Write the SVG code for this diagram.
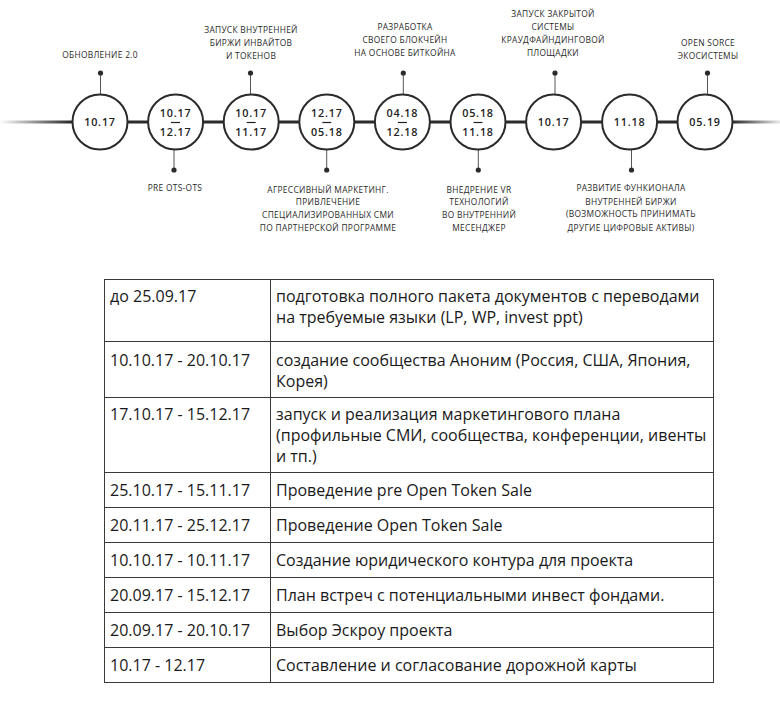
<svg xmlns="http://www.w3.org/2000/svg" width="780" height="712" viewBox="0 0 780 712">
  <defs>
    <linearGradient id="axisFade" x1="0" y1="0" x2="780" y2="0" gradientUnits="userSpaceOnUse">
      <stop offset="0" stop-color="#2b2b2b" stop-opacity="0"/>
      <stop offset="0.09" stop-color="#2b2b2b" stop-opacity="1"/>
      <stop offset="0.94" stop-color="#2b2b2b" stop-opacity="1"/>
      <stop offset="1" stop-color="#2b2b2b" stop-opacity="0.1"/>
    </linearGradient>
    <style>
      .node circle { fill: #ffffff; stroke: #2b2b2b; stroke-width: 2; }
      .date { font-family: "Open Sans", "Noto Sans", sans-serif; font-size: 10.8px; font-weight: 600; fill: #222; text-anchor: middle; letter-spacing: 0.8px; }
      .bar { stroke: #222; stroke-width: 1.2; }
      .stem { stroke: #555; stroke-width: 1; }
      .dot { fill: #2b2b2b; }
      .lbl { font-family: "Open Sans", "Noto Sans", sans-serif; font-size: 8.4px; font-weight: 500; fill: #2a2a2a; text-anchor: middle; letter-spacing: 0.3px; }
      .grid { stroke: #3a3a3a; stroke-width: 1; fill: none; }
      .cell { font-family: "Open Sans", "Noto Sans", sans-serif; font-size: 16px; fill: #1a1a1a; }
    </style>
  </defs>
  <rect width="780" height="712" fill="#ffffff"/>

  <!-- timeline axis and stems -->
  <g id="connectors">
    <line x1="0" y1="122" x2="780" y2="122" stroke="url(#axisFade)" stroke-width="3"/>
    <line class="stem" x1="100.5" y1="73" x2="100.5" y2="94"/>
    <circle class="dot" cx="100.5" cy="73" r="2.6"/>
    <line class="stem" x1="174" y1="150" x2="174" y2="170"/>
    <circle class="dot" cx="174" cy="170" r="2.6"/>
    <line class="stem" x1="250.5" y1="73" x2="250.5" y2="94"/>
    <circle class="dot" cx="250.5" cy="73" r="2.6"/>
    <line class="stem" x1="326.7" y1="150" x2="326.7" y2="170"/>
    <circle class="dot" cx="326.7" cy="170" r="2.6"/>
    <line class="stem" x1="403.3" y1="73" x2="403.3" y2="94"/>
    <circle class="dot" cx="403.3" cy="73" r="2.6"/>
    <line class="stem" x1="478.3" y1="150" x2="478.3" y2="170"/>
    <circle class="dot" cx="478.3" cy="170" r="2.6"/>
    <line class="stem" x1="555" y1="73" x2="555" y2="94"/>
    <circle class="dot" cx="555" cy="73" r="2.6"/>
    <line class="stem" x1="631.5" y1="150" x2="631.5" y2="170"/>
    <circle class="dot" cx="631.5" cy="170" r="2.6"/>
    <line class="stem" x1="707.5" y1="73" x2="707.5" y2="94"/>
    <circle class="dot" cx="707.5" cy="73" r="2.6"/>
  </g>

  <!-- milestones -->
  <g id="m1" class="node">
    <circle cx="100" cy="122" r="27.5"/>
    <text class="date" x="100" y="126">10.17</text>
    <text class="lbl" x="100" y="58">ОБНОВЛЕНИЕ 2.0</text>
  </g>
  <g id="m2" class="node">
    <circle cx="175.6" cy="122" r="27.5"/>
    <text class="date" x="175.6" y="117">10.17</text>
    <line class="bar" x1="171" y1="122.5" x2="180" y2="122.5"/>
    <text class="date" x="175.6" y="135.5">12.17</text>
    <text class="lbl" x="175" y="191">PRE OTS-OTS</text>
  </g>
  <g id="m3" class="node">
    <circle cx="251.2" cy="122" r="27.5"/>
    <text class="date" x="251.2" y="117">10.17</text>
    <line class="bar" x1="246.7" y1="122.5" x2="255.7" y2="122.5"/>
    <text class="date" x="251.2" y="135.5">11.17</text>
    <text class="lbl" x="251" y="33">ЗАПУСК ВНУТРЕННЕЙ</text>
    <text class="lbl" x="251" y="46">БИРЖИ ИНВАЙТОВ</text>
    <text class="lbl" x="251" y="59">И ТОКЕНОВ</text>
  </g>
  <g id="m4" class="node">
    <circle cx="326.8" cy="122" r="27.5"/>
    <text class="date" x="326.8" y="117">12.17</text>
    <line class="bar" x1="322.3" y1="122.5" x2="331.3" y2="122.5"/>
    <text class="date" x="326.8" y="135.5">05.18</text>
    <text class="lbl" x="328" y="193">АГРЕССИВНЫЙ МАРКЕТИНГ.</text>
    <text class="lbl" x="328" y="205">ПРИВЛЕЧЕНИЕ</text>
    <text class="lbl" x="328" y="218">СПЕЦИАЛИЗИРОВАННЫХ СМИ</text>
    <text class="lbl" x="328" y="231">ПО ПАРТНЕРСКОЙ ПРОГРАММЕ</text>
  </g>
  <g id="m5" class="node">
    <circle cx="402.4" cy="122" r="27.5"/>
    <text class="date" x="402.4" y="117">04.18</text>
    <line class="bar" x1="397.9" y1="122.5" x2="406.9" y2="122.5"/>
    <text class="date" x="402.4" y="135.5">12.18</text>
    <text class="lbl" x="405" y="30">РАЗРАБОТКА</text>
    <text class="lbl" x="405" y="43">СВОЕГО БЛОКЧЕЙН</text>
    <text class="lbl" x="405" y="56">НА ОСНОВЕ БИТКОЙНА</text>
  </g>
  <g id="m6" class="node">
    <circle cx="478" cy="122" r="27.5"/>
    <text class="date" x="478" y="117">05.18</text>
    <line class="bar" x1="473.5" y1="122.5" x2="482.5" y2="122.5"/>
    <text class="date" x="478" y="135.5">11.18</text>
    <text class="lbl" x="479" y="193">ВНЕДРЕНИЕ VR</text>
    <text class="lbl" x="479" y="205">ТЕХНОЛОГИЙ</text>
    <text class="lbl" x="479" y="218">ВО ВНУТРЕННИЙ</text>
    <text class="lbl" x="479" y="231">МЕСЕНДЖЕР</text>
  </g>
  <g id="m7" class="node">
    <circle cx="553.6" cy="122" r="27.5"/>
    <text class="date" x="553.6" y="126">10.17</text>
    <text class="lbl" x="553" y="17">ЗАПУСК ЗАКРЫТОЙ</text>
    <text class="lbl" x="553" y="30">СИСТЕМЫ</text>
    <text class="lbl" x="553" y="43">КРАУДФАЙНДИНГОВОЙ</text>
    <text class="lbl" x="553" y="56">ПЛОЩАДКИ</text>
  </g>
  <g id="m8" class="node">
    <circle cx="629.6" cy="122" r="27.5"/>
    <text class="date" x="629.6" y="126">11.18</text>
    <text class="lbl" x="631" y="191">РАЗВИТИЕ ФУНКИОНАЛА</text>
    <text class="lbl" x="631" y="205">ВНУТРЕННЕЙ БИРЖИ</text>
    <text class="lbl" x="631" y="217">(ВОЗМОЖНОСТЬ ПРИНИМАТЬ</text>
    <text class="lbl" x="631" y="231">ДРУГИЕ ЦИФРОВЫЕ АКТИВЫ)</text>
  </g>
  <g id="m9" class="node">
    <circle cx="705" cy="122" r="27.5"/>
    <text class="date" x="705" y="126">05.19</text>
    <text class="lbl" x="708" y="46">OPEN SORCE</text>
    <text class="lbl" x="708" y="59">ЭКОСИСТЕМЫ</text>
  </g>

  <!-- schedule table -->
  <g id="table">
    <rect class="grid" x="104.5" y="279.5" width="609" height="403"/>
    <line class="grid" x1="270.5" y1="279.5" x2="270.5" y2="682.5"/>
    <line class="grid" x1="104.5" y1="341.5" x2="713.5" y2="341.5"/>
    <line class="grid" x1="104.5" y1="397.5" x2="713.5" y2="397.5"/>
    <line class="grid" x1="104.5" y1="472.5" x2="713.5" y2="472.5"/>
    <line class="grid" x1="104.5" y1="507.5" x2="713.5" y2="507.5"/>
    <line class="grid" x1="104.5" y1="542.5" x2="713.5" y2="542.5"/>
    <line class="grid" x1="104.5" y1="577.5" x2="713.5" y2="577.5"/>
    <line class="grid" x1="104.5" y1="612.5" x2="713.5" y2="612.5"/>
    <line class="grid" x1="104.5" y1="647.5" x2="713.5" y2="647.5"/>

    <text class="cell" x="110" y="302">до 25.09.17</text>
    <text class="cell" x="276" y="302">подготовка полного пакета документов с переводами</text>
    <text class="cell" x="276" y="323">на требуемые языки (LP, WP, invest ppt)</text>

    <text class="cell" x="110" y="365.5">10.10.17 - 20.10.17</text>
    <text class="cell" x="276" y="365.5">создание сообщества Аноним (Россия, США, Япония,</text>
    <text class="cell" x="276" y="386.5">Корея)</text>

    <text class="cell" x="110" y="420">17.10.17 - 15.12.17</text>
    <text class="cell" x="276" y="420">запуск и реализация маркетингового плана</text>
    <text class="cell" x="276" y="441">(профильные СМИ, сообщества, конференции, ивенты</text>
    <text class="cell" x="276" y="462">и тп.)</text>

    <text class="cell" x="110" y="496">25.10.17 - 15.11.17</text>
    <text class="cell" x="276" y="496">Проведение pre Open Token Sale</text>

    <text class="cell" x="110" y="530.5">20.11.17 - 25.12.17</text>
    <text class="cell" x="276" y="530.5">Проведение Open Token Sale</text>

    <text class="cell" x="110" y="566">10.10.17 - 10.11.17</text>
    <text class="cell" x="276" y="566">Создание юридического контура для проекта</text>

    <text class="cell" x="110" y="600.5">20.09.17 - 15.12.17</text>
    <text class="cell" x="276" y="600.5">План встреч с потенциальными инвест фондами.</text>

    <text class="cell" x="110" y="636">20.09.17 - 20.10.17</text>
    <text class="cell" x="276" y="636">Выбор Эскроу проекта</text>

    <text class="cell" x="110" y="670.5">10.17 - 12.17</text>
    <text class="cell" x="276" y="670.5">Составление и согласование дорожной карты</text>
  </g>
</svg>
